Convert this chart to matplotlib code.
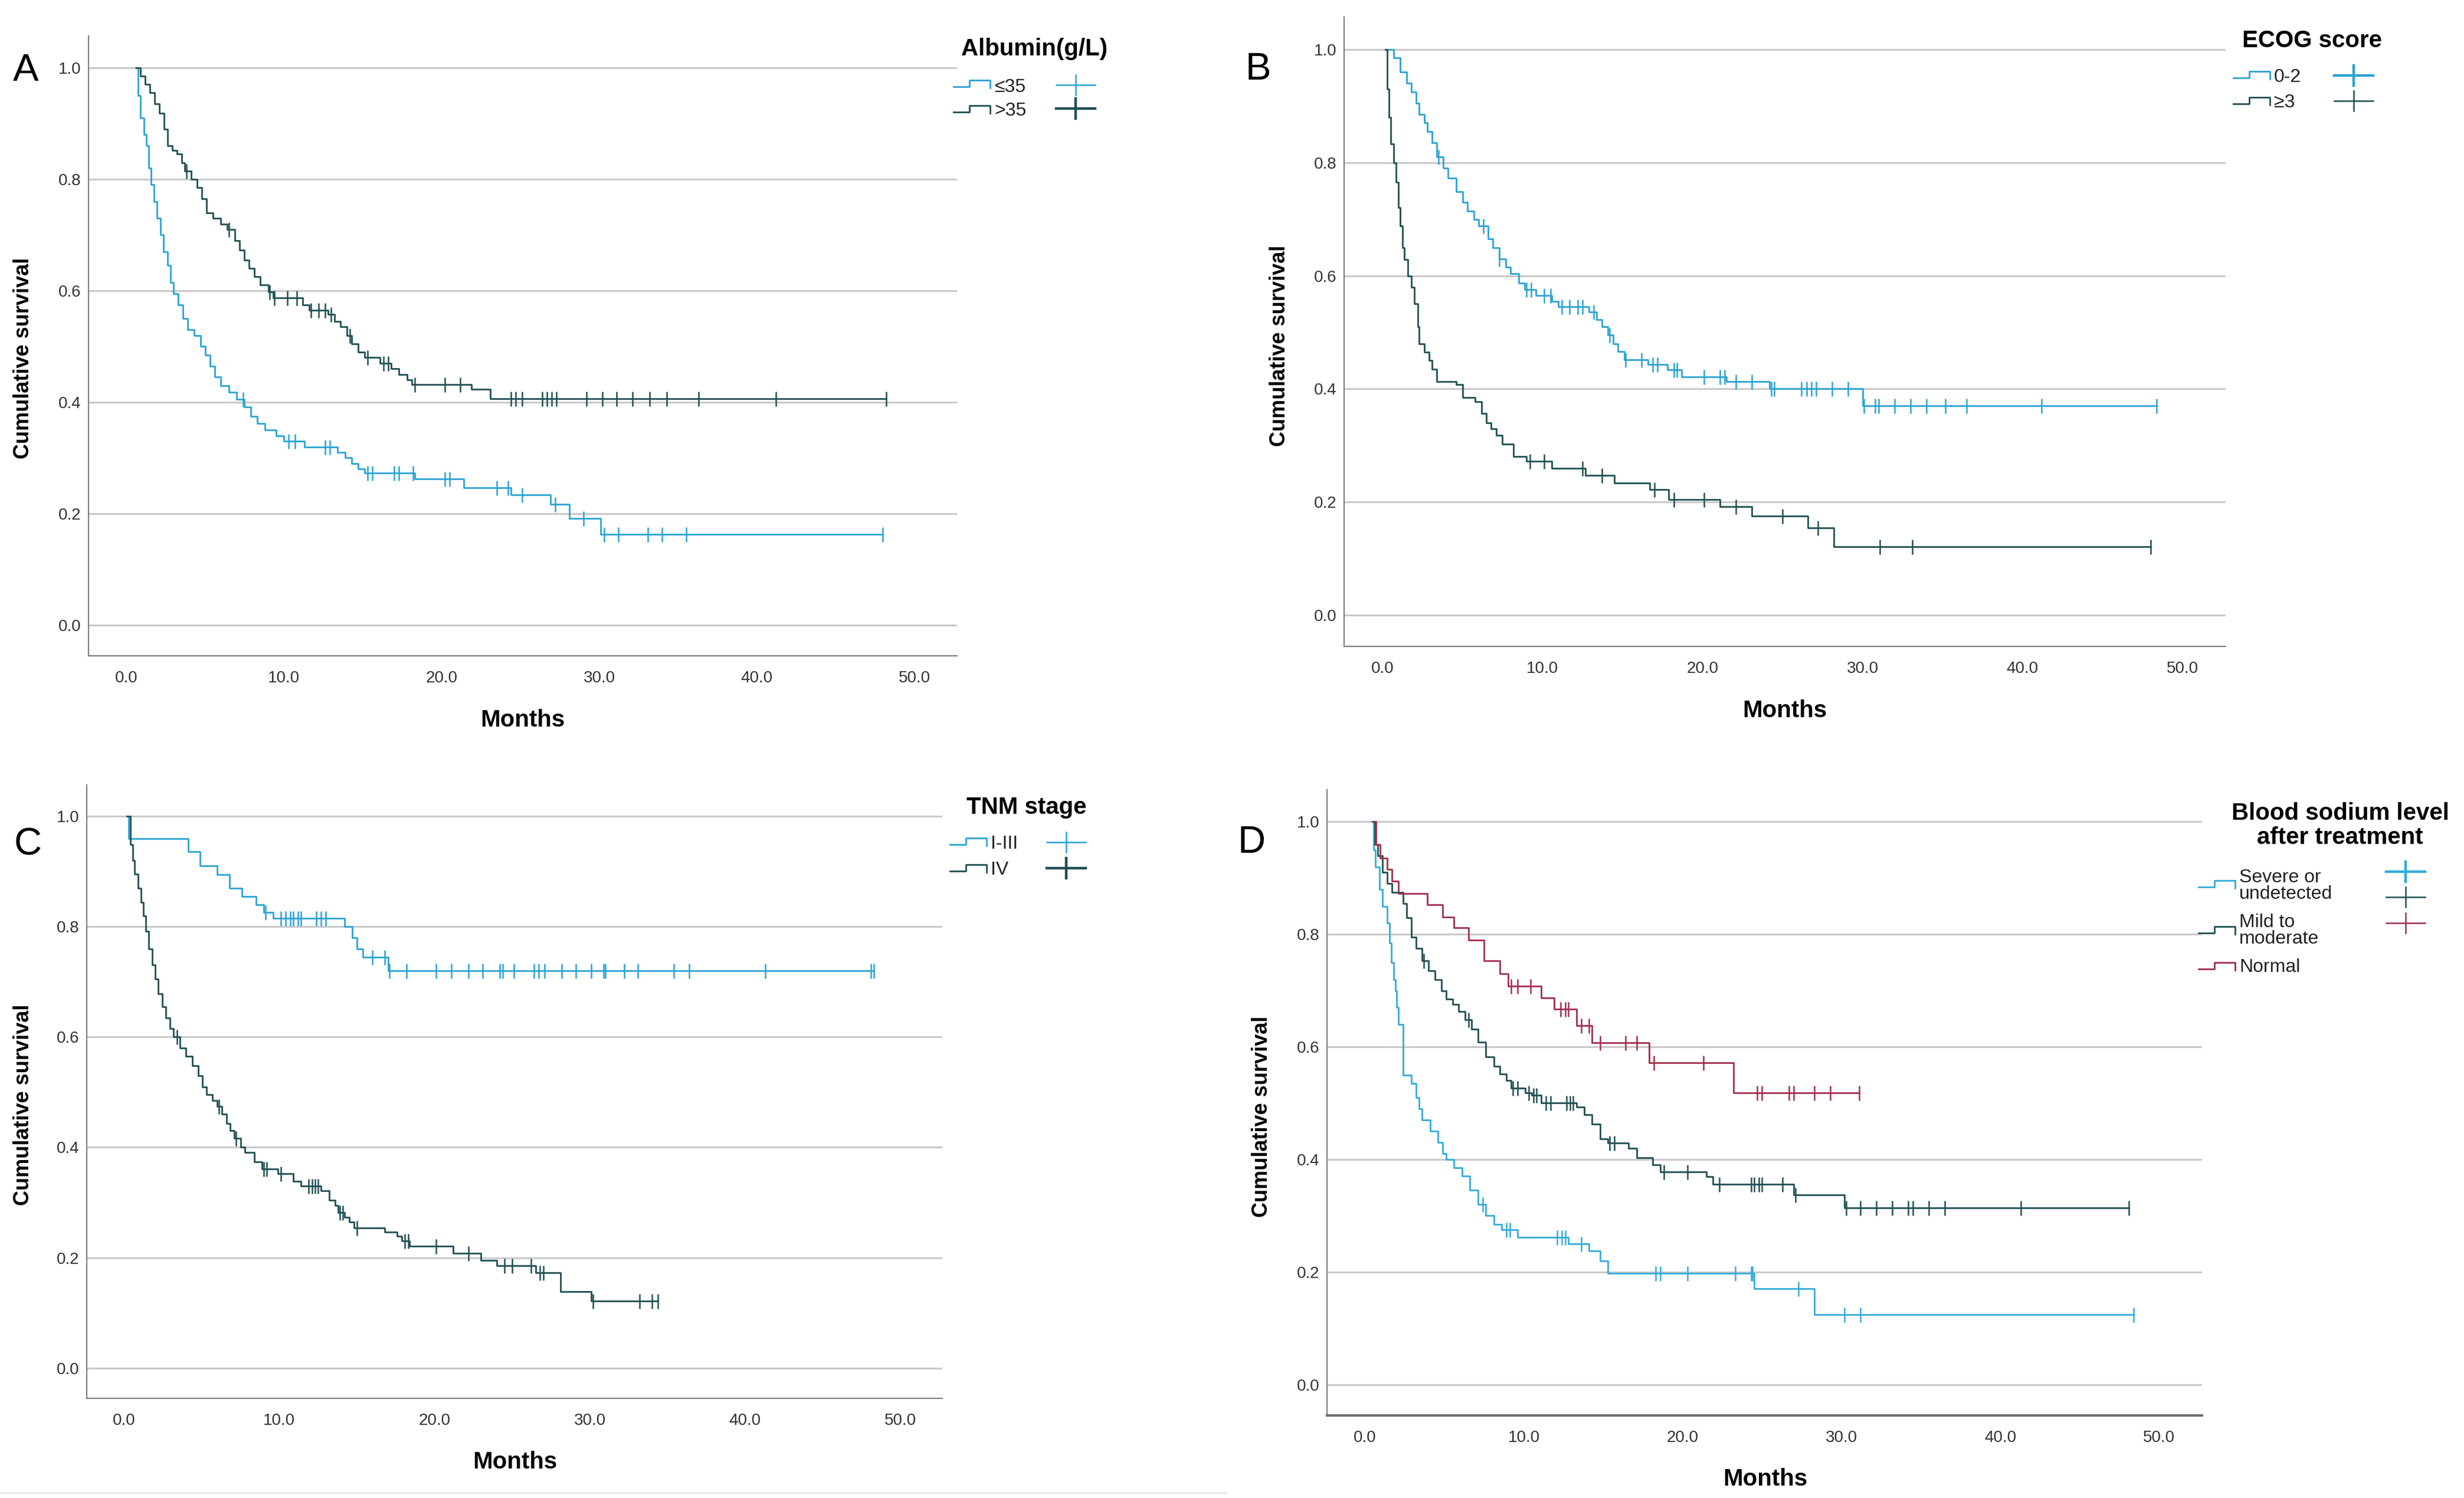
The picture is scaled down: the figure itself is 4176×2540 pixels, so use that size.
import matplotlib
matplotlib.use("Agg")
import matplotlib.pyplot as plt
from matplotlib.lines import Line2D
from matplotlib.ticker import FormatStrFormatter
import numpy as np

plt.rcParams['font.family'] = ['Liberation Sans', 'DejaVu Sans']

W, H = 4176, 2540

# ---------------- data (months, cumulative survival) ----------------
# Panel A: albumin
a_lo_t = [0.6, 0.75, 0.9, 1.1, 1.25, 1.4, 1.55, 1.75, 1.95, 2.15, 2.35, 2.6, 2.8, 3.0, 3.3, 3.6, 3.9, 4.3,
          4.7, 5.0, 5.3, 5.6, 6.0, 6.5, 7.0, 7.5, 7.9, 8.3, 8.8, 9.5, 10.0, 11.3, 13.4, 13.9, 14.3, 14.7,
          15.1, 18.3, 21.4, 24.4, 26.9, 28.1, 30.1]
a_lo_s = [1.0, 0.95, 0.91, 0.88, 0.86, 0.82, 0.79, 0.76, 0.73, 0.70, 0.67, 0.645, 0.615, 0.595, 0.575, 0.55,
          0.53, 0.52, 0.5, 0.485, 0.465, 0.445, 0.43, 0.418, 0.405, 0.392, 0.375, 0.362, 0.35, 0.34, 0.33,
          0.32, 0.31, 0.30, 0.29, 0.28, 0.273, 0.262, 0.247, 0.234, 0.217, 0.191, 0.163]
a_lo_c = [7.4, 10.3, 10.7, 12.6, 12.9, 15.3, 15.6, 17.0, 17.3, 18.2, 20.2, 20.5, 23.5, 24.2, 25.1, 27.2,
          29.0, 30.3, 31.2, 33.1, 34.0, 35.5, 48.0]
a_hi_t = [0.65, 0.9, 1.2, 1.5, 1.8, 2.1, 2.4, 2.6, 2.9, 3.2, 3.5, 3.7, 4.1, 4.5, 4.8, 5.1, 5.5, 6.0, 6.4,
          6.9, 7.2, 7.5, 7.8, 8.1, 8.5, 9.0, 9.3, 11.2, 11.6, 12.8, 13.2, 13.6, 14.0, 14.3, 14.7, 15.1,
          16.1, 16.8, 17.3, 17.8, 18.1, 21.9, 23.1]
a_hi_s = [1.0, 0.985, 0.97, 0.955, 0.935, 0.918, 0.89, 0.86, 0.852, 0.845, 0.83, 0.815, 0.80, 0.785, 0.765,
          0.74, 0.73, 0.72, 0.71, 0.69, 0.673, 0.655, 0.64, 0.625, 0.61, 0.598, 0.587, 0.575, 0.565, 0.558,
          0.545, 0.535, 0.52, 0.505, 0.49, 0.48, 0.47, 0.46, 0.45, 0.44, 0.432, 0.423, 0.406]
a_hi_c = [3.8, 6.5, 9.1, 9.4, 10.2, 10.8, 11.7, 12.2, 12.6, 13.0, 14.2, 15.3, 16.3, 16.6, 18.3, 20.2, 21.2,
          24.4, 24.7, 25.1, 26.4, 26.7, 27.0, 27.3, 29.2, 30.2, 31.1, 32.1, 33.2, 34.3, 36.3, 41.2, 48.2]

# Panel B: ECOG score
b_lo_t = [0.35, 0.7, 1.1, 1.5, 1.8, 2.1, 2.3, 2.6, 2.8, 3.1, 3.4, 3.8, 4.1, 4.6, 5.0, 5.3, 5.7, 6.0, 6.6,
          6.9, 7.3, 7.7, 8.0, 8.5, 8.9, 9.6, 10.6, 11.0, 12.9, 13.4, 13.7, 14.1, 14.4, 14.7, 15.1, 16.6,
          17.8, 18.7, 21.5, 24.2, 30.0]
b_lo_s = [1.0, 0.985, 0.96, 0.94, 0.925, 0.905, 0.885, 0.87, 0.855, 0.835, 0.81, 0.79, 0.772, 0.748, 0.73,
          0.714, 0.70, 0.688, 0.665, 0.65, 0.63, 0.615, 0.604, 0.587, 0.575, 0.565, 0.555, 0.545, 0.536,
          0.522, 0.51, 0.495, 0.48, 0.466, 0.451, 0.443, 0.434, 0.421, 0.413, 0.40, 0.37]
b_lo_c = [3.5, 6.3, 7.3, 9.0, 9.3, 10.1, 10.5, 11.2, 11.7, 12.2, 12.5, 13.2, 14.2, 15.2, 16.2, 16.9, 17.2,
          18.2, 18.4, 20.1, 21.1, 21.4, 22.1, 23.1, 24.3, 24.5, 26.2, 26.5, 26.8, 27.1, 28.1, 29.1, 30.1,
          30.8, 31.0, 32.0, 33.0, 34.0, 35.2, 36.5, 41.2, 48.4]
b_hi_t = [0.2, 0.3, 0.4, 0.5, 0.7, 0.85, 1.0, 1.1, 1.25, 1.35, 1.6, 1.8, 2.0, 2.2, 2.3, 2.6, 2.9, 3.1, 3.4,
          4.6, 5.0, 5.8, 6.2, 6.5, 6.8, 7.1, 7.5, 8.2, 9.0, 10.6, 12.7, 14.5, 16.7, 17.9, 21.1, 23.1,
          26.6, 28.2]
b_hi_s = [1.0, 0.93, 0.88, 0.833, 0.80, 0.765, 0.72, 0.688, 0.65, 0.629, 0.60, 0.58, 0.55, 0.51, 0.48,
          0.465, 0.45, 0.435, 0.413, 0.408, 0.385, 0.378, 0.357, 0.34, 0.33, 0.318, 0.302, 0.281, 0.272,
          0.26, 0.247, 0.234, 0.222, 0.205, 0.192, 0.175, 0.154, 0.121]
b_hi_c = [9.2, 10.1, 12.5, 13.7, 17.0, 18.2, 20.1, 22.1, 25.0, 27.2, 31.1, 33.1, 48.0]

# Panel C: TNM stage
c_lo_t = [0.25, 0.3, 4.15, 4.9, 6.0, 6.8, 7.6, 8.5, 9.0, 9.6, 14.2, 14.7, 15.0, 15.4, 17.0]
c_lo_s = [1.0, 0.96, 0.936, 0.91, 0.895, 0.87, 0.855, 0.84, 0.826, 0.815, 0.80, 0.78, 0.76, 0.745, 0.72]
c_lo_c = [9.1, 10.1, 10.4, 10.7, 10.9, 11.2, 11.4, 12.4, 12.7, 13.0, 16.0, 16.8, 17.1, 18.2, 20.1, 21.1,
          22.2, 23.1, 24.2, 24.4, 25.1, 26.4, 26.7, 27.1, 28.2, 29.1, 30.1, 30.9, 31.0, 32.2, 33.1, 35.4,
          36.4, 41.3, 48.1, 48.3]
c_hi_t = [0.2, 0.4, 0.55, 0.67, 0.9, 1.1, 1.25, 1.4, 1.6, 1.8, 2.0, 2.2, 2.45, 2.7, 2.95, 3.2, 3.6, 4.0,
          4.4, 4.8, 5.05, 5.3, 5.7, 6.0, 6.3, 6.6, 6.85, 7.1, 7.5, 7.8, 8.4, 8.9, 9.9, 10.9, 11.4, 12.7,
          13.2, 13.6, 13.8, 14.2, 14.5, 14.8, 16.8, 17.6, 17.9, 18.4, 21.2, 23.0, 24.0, 26.5, 28.1, 30.1]
c_hi_s = [1.0, 0.949, 0.92, 0.896, 0.87, 0.844, 0.82, 0.792, 0.76, 0.731, 0.705, 0.679, 0.655, 0.635,
          0.615, 0.60, 0.58, 0.565, 0.548, 0.53, 0.51, 0.496, 0.485, 0.474, 0.46, 0.443, 0.43, 0.417,
          0.40, 0.391, 0.374, 0.361, 0.352, 0.339, 0.33, 0.321, 0.304, 0.295, 0.282, 0.273, 0.265, 0.254,
          0.247, 0.239, 0.23, 0.221, 0.208, 0.195, 0.186, 0.173, 0.139, 0.121]
c_hi_c = [3.4, 6.1, 7.2, 9.0, 9.2, 10.1, 11.9, 12.1, 12.3, 12.5, 13.9, 14.1, 15.0, 18.1, 18.3, 20.1, 22.2,
          24.5, 25.0, 26.2, 26.8, 27.0, 30.2, 33.2, 34.0, 34.4]

# Panel D: blood sodium after treatment
d_sev_t = [0.4, 0.55, 0.65, 0.9, 1.1, 1.4, 1.55, 1.65, 1.8, 1.9, 2.0, 2.1, 2.4, 2.9, 3.2, 3.4, 3.6, 4.1,
           4.6, 4.9, 5.1, 5.6, 6.1, 6.6, 7.1, 7.6, 8.1, 8.6, 9.6, 12.8, 14.1, 14.8, 15.3, 24.5, 28.3]
d_sev_s = [1.0, 0.95, 0.92, 0.88, 0.85, 0.82, 0.785, 0.75, 0.72, 0.70, 0.67, 0.64, 0.55, 0.535, 0.51,
           0.49, 0.47, 0.45, 0.43, 0.41, 0.40, 0.385, 0.37, 0.345, 0.32, 0.30, 0.285, 0.275, 0.262, 0.25,
           0.237, 0.22, 0.198, 0.17, 0.124]
d_sev_c = [7.4, 8.9, 9.1, 12.1, 12.4, 12.6, 13.6, 18.3, 18.6, 20.3, 23.3, 24.3, 24.4, 27.3, 30.2, 31.2,
           48.4]
d_mild_t = [0.5, 0.6, 0.8, 1.1, 1.4, 1.7, 2.4, 2.6, 2.9, 3.2, 3.6, 4.0, 4.4, 4.8, 5.1, 5.5, 5.9, 6.3, 6.7,
            7.1, 7.6, 8.1, 8.5, 8.9, 9.2, 10.1, 10.5, 11.1, 13.3, 13.8, 14.3, 14.8, 15.3, 16.6, 17.1,
            18.1, 18.6, 21.5, 21.9, 27.0, 30.2]
d_mild_s = [1.0, 0.96, 0.94, 0.91, 0.89, 0.875, 0.855, 0.83, 0.795, 0.775, 0.753, 0.735, 0.719, 0.70,
            0.685, 0.675, 0.663, 0.648, 0.632, 0.608, 0.582, 0.565, 0.552, 0.54, 0.527, 0.518, 0.514,
            0.501, 0.493, 0.48, 0.463, 0.437, 0.429, 0.42, 0.403, 0.39, 0.378, 0.369, 0.356, 0.337, 0.314]
d_mild_c = [3.7, 6.5, 9.3, 9.6, 10.3, 10.6, 10.8, 11.4, 11.7, 12.7, 12.9, 13.1, 15.4, 15.7, 18.8, 20.3,
            22.3, 24.3, 24.5, 24.8, 25.0, 26.3, 27.1, 30.3, 31.2, 32.2, 33.2, 34.2, 34.5, 35.5, 36.5,
            41.3, 48.1]
d_norm_t = [0.5, 0.7, 0.95, 1.4, 1.7, 2.1, 3.9, 4.9, 5.6, 6.5, 7.5, 8.5, 9.0, 11.1, 11.9, 13.3, 14.3,
            17.9, 23.2]
d_norm_s = [1.0, 0.96, 0.935, 0.915, 0.895, 0.873, 0.853, 0.831, 0.812, 0.79, 0.753, 0.73, 0.708, 0.687,
            0.667, 0.638, 0.607, 0.572, 0.518]
d_norm_c = [9.2, 9.6, 10.4, 12.3, 12.6, 12.8, 13.6, 14.1, 14.8, 16.4, 17.1, 18.2, 21.3, 24.7, 25.0,
            26.7, 27.0, 28.3, 29.3, 31.1]

titles = ["Albumin(g/L)", "ECOG score", "TNM stage", "Blood sodium level\nafter treatment"]
labels_a = ["≤35", ">35"]
labels_b = ["0-2", "≥3"]
labels_c = ["I-III", "IV"]
labels_d = ["Severe or\nundetected", "Mild to\nmoderate", "Normal"]

LIGHT = '#2aa3d3'
DARK = '#1f4f53'
RED = '#a12e4c'

fig = plt.figure(figsize=(W / 100, H / 100), dpi=100)


def fx(x):
    return x / W


def fy(y):
    return 1 - y / H


def km(ax, t, s, c, color):
    t = np.array(t)
    s = np.array(s)
    c = np.array(c)
    end = max(t[-1], c.max())
    ax.step(np.append(t, end), np.append(s, s[-1]), where='post', color=color, lw=2.0, zorder=3)
    cs = s[np.searchsorted(t, c, side='right') - 1]
    ax.plot(c, cs, ls='none', marker='|', ms=18, mew=1.8, color=color, zorder=4)


def setup(rect):
    ax = fig.add_axes(rect)
    ax.set_xlim(-2.4, 52.7)
    ax.set_ylim(-0.055, 1.057)
    ax.set_xticks([0, 10, 20, 30, 40, 50])
    ax.set_yticks([0, 0.2, 0.4, 0.6, 0.8, 1.0])
    ax.xaxis.set_major_formatter(FormatStrFormatter('%.1f'))
    ax.yaxis.set_major_formatter(FormatStrFormatter('%.1f'))
    ax.yaxis.grid(True, color='#c9c9c9', lw=2.2)
    ax.set_axisbelow(True)
    for sp in ['top', 'right']:
        ax.spines[sp].set_visible(False)
    for sp in ['left', 'bottom']:
        ax.spines[sp].set_color('#808080')
        ax.spines[sp].set_linewidth(1.6)
    ax.tick_params(axis='both', length=0, labelsize=20, labelcolor='#333333')
    ax.tick_params(axis='x', pad=18)
    ax.tick_params(axis='y', pad=9)
    return ax


def legend(x0, title_xy, title_lines, labels, colors, text_y, icon_y, cross_y, cross_x, bold):
    for ln, (tx, ty) in zip(title_lines, title_xy):
        fig.text(fx(tx), fy(ty), ln, ha='center', va='center', fontsize=29, fontweight='bold')
    for lab, col, ty, iy, cy, b in zip(labels, colors, text_y, icon_y, cross_y, bold):
        xs = [x0, x0 + 27, x0 + 27, x0 + 62, x0 + 62]
        ys = [iy, iy, iy - 11, iy - 11, iy + 2]
        fig.add_artist(Line2D([fx(v) for v in xs], [fy(v) for v in ys], color=col, lw=2.0))
        fig.text(fx(x0 + 69), fy(ty), lab, ha='left', va='center', fontsize=23, color='#222222',
                 linespacing=0.92)
        lw = 3.2 if b else 1.8
        fig.add_artist(Line2D([fx(cross_x - 33), fx(cross_x + 33)], [fy(cy), fy(cy)], color=col, lw=lw))
        fig.add_artist(Line2D([fx(cross_x), fx(cross_x)], [fy(cy - 17), fy(cy + 17)], color=col, lw=lw))


# ---------------- panel A ----------------
axA = setup([150 / W, 1 - 1112 / H, 1472 / W, 1051 / H])
km(axA, a_lo_t, a_lo_s, a_lo_c, LIGHT)
km(axA, a_hi_t, a_hi_s, a_hi_c, DARK)
legend(1616, [(1753, 83)], [titles[0]], labels_a, [LIGHT, DARK],
       [148, 188], [147, 190], [144, 184], 1823, [False, True])

# ---------------- panel B ----------------
axB = setup([2278 / W, 1 - 1096 / H, 1494 / W, 1067 / H])
km(axB, b_lo_t, b_lo_s, b_lo_c, LIGHT)
km(axB, b_hi_t, b_hi_s, b_hi_c, DARK)
legend(3785, [(3918, 69)], [titles[1]], labels_b, [LIGHT, DARK],
       [131, 174], [132, 176], [128, 171], 3989, [True, False])

# ---------------- panel C ----------------
axC = setup([147 / W, 1 - 2371 / H, 1450 / W, 1040 / H])
km(axC, c_lo_t, c_lo_s, c_lo_c, LIGHT)
km(axC, c_hi_t, c_hi_s, c_hi_c, DARK)
legend(1610, [(1740, 1369)], [titles[2]], labels_c, [LIGHT, DARK],
       [1431, 1475], [1432, 1477], [1428, 1472], 1807, [False, True])

# ---------------- panel D ----------------
axD = setup([2249 / W, 1 - 2400 / H, 1483 / W, 1061 / H])
axD.spines['bottom'].set_linewidth(3.0)
axD.spines['bottom'].set_color('#6e6e6e')
km(axD, d_sev_t, d_sev_s, d_sev_c, '#33acd8')
km(axD, d_mild_t, d_mild_s, d_mild_c, DARK)
km(axD, d_norm_t, d_norm_s, d_norm_c, RED)
legend(3726, [(3966, 1379), (3966, 1420)], titles[3].split('\n'), labels_d, ['#33acd8', DARK, RED],
       [1502, 1578, 1640], [1504, 1582, 1643], [1478, 1521, 1565], 4077, [True, False, False])

# ---------------- axis titles and panel letters ----------------
for (x, y) in [(886, 1221), (3025, 1205), (873, 2479), (2992, 2508)]:
    fig.text(fx(x), fy(y), "Months", ha='center', va='center', fontsize=29, fontweight='bold')
for (x, y) in [(40, 607), (2168, 586), (40, 1873), (2139, 1893)]:
    fig.text(fx(x), fy(y), "Cumulative survival", ha='center', va='center', rotation=90,
             fontsize=26, fontweight='bold')
for (x, y), letter in zip([(44, 120), (2132, 118), (47, 1433), (2121, 1429)], "ABCD"):
    fig.text(fx(x), fy(y), letter, ha='center', va='center', fontsize=47)

# faint separator along the bottom edge of the left half
fig.add_artist(Line2D([0, fx(2077)], [fy(2531), fy(2531)], color='#e6e6e6', lw=2))

fig.savefig("out.png", dpi=100, facecolor='white')
